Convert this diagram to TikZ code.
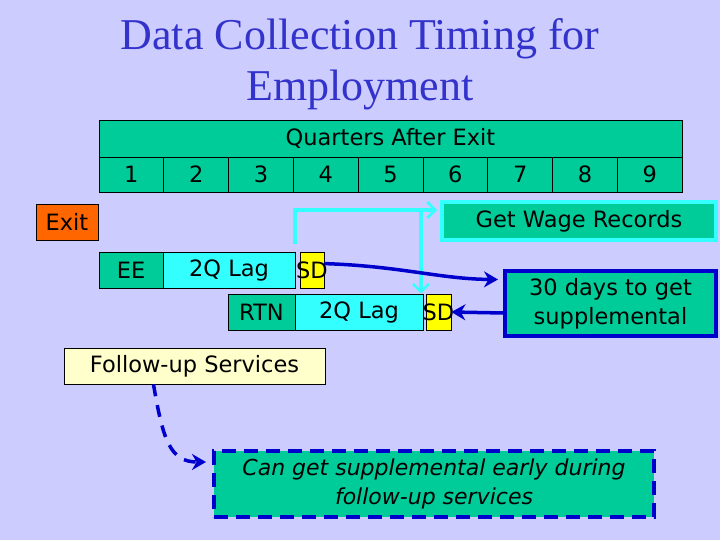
\documentclass[tikz,border=0pt]{standalone}
\usepackage{fontspec}
\setmainfont{Liberation Serif}
\newfontfamily\cfont{DejaVu Sans}
\usetikzlibrary{arrows.meta}
\definecolor{bg}{RGB}{204,204,255}
\definecolor{teal}{RGB}{0,204,153}
\definecolor{cyanx}{RGB}{51,255,255}
\definecolor{yel}{RGB}{255,255,0}
\definecolor{ora}{RGB}{255,102,0}
\definecolor{lyel}{RGB}{255,255,204}
\definecolor{blu}{RGB}{0,0,204}
\definecolor{titlec}{RGB}{51,51,204}
\tikzset{
  cell/.style={draw=black, line width=0.8pt, inner sep=0pt, font=\cfont\fontsize{22.5}{26}\selectfont, minimum height=36pt},
  cyanarrow/.style={draw=cyanx, line width=3.5pt, -{Straight Barb[length=8pt,width=16pt,line width=2.5pt]}},
  bluearrow/.style={draw=blu, line width=3.5pt, -{Stealth[length=14pt,width=16pt]}},
}
\begin{document}
\begin{tikzpicture}[x=1pt,y=-1pt]
\fill[bg] (0,0) rectangle (720,540);
\useasboundingbox (0,0) rectangle (720,540);
% title
\node[titlec, font=\fontsize{44}{51}\selectfont, align=center] (title) at (360,64) {Data Collection Timing for\\Employment};
% table
\node[cell, fill=teal, minimum width=583pt, minimum height=37pt] (hdr) at (390.5,138.5) {Quarters After Exit};
\foreach \i in {1,...,9}{
  \node[cell, fill=teal, minimum width=64.8pt, minimum height=35pt] (q\i) at ({99+64.8*(\i-0.5)},174.5) {\i};
}
% rows
\node[cell, fill=ora, minimum width=62pt] (exit) at (67,222) {Exit};
\node[cell, fill=teal, minimum width=64pt] (ee) at (131,270) {EE};
\node[cell, fill=cyanx, minimum width=132pt] (lag1) at (229,270) {2Q Lag};
\node[cell, fill=yel, minimum width=24pt] (sd1) at (312,270) {\makebox[0pt]{SD}};
\node[cell, fill=teal, minimum width=67pt] (rtn) at (261.5,312) {RTN};
\node[cell, fill=cyanx, minimum width=128pt] (lag2) at (359,312) {2Q Lag};
\node[cell, fill=yel, minimum width=25pt] (sd2) at (438.5,312) {\makebox[0pt]{SD}};
% side boxes
\node[cell, fill=teal, draw=cyanx, line width=4pt, minimum width=274pt, minimum height=38pt] (wage) at (579,221) {Get Wage Records};
\node[cell, fill=teal, draw=blu, line width=4pt, minimum width=211pt, minimum height=65pt, align=center, font=\cfont\fontsize{22.5}{29}\selectfont] (days) at (610.5,303.5) {30 days to get\\supplemental};
\node[cell, fill=lyel, minimum width=261pt] (follow) at (194.5,366) {Follow-up Services};
\node[cell, fill=teal, draw=blu, line width=4pt, dash pattern=on 14pt off 8pt, minimum width=440pt, minimum height=66pt, align=center, font=\cfont\itshape\fontsize{22}{29}\selectfont] (can) at (434,484) {Can get supplemental early during\\follow-up services};
% connectors
\coordinate (c1) at (295,244);
\coordinate (br) at (421,210);
\draw[cyanarrow] (c1) |- ([yshift=11pt,xshift=-3pt]wage.west);
\draw[cyanarrow] (br) -- (br |- lag2.north);
\draw[bluearrow] ([yshift=-12pt]sd1.north east) .. controls (400,266) and (440,279) .. ([yshift=24pt,xshift=-5pt]days.west);
\draw[bluearrow] ([yshift=-9.5pt]days.west) -- (sd2.east);
\draw[bluearrow, dash pattern=on 12pt off 9pt] ([xshift=-41pt]follow.south) .. controls (163,440) and (170,462) .. ([yshift=22pt,xshift=-6pt]can.west);
\end{tikzpicture}
\end{document}
